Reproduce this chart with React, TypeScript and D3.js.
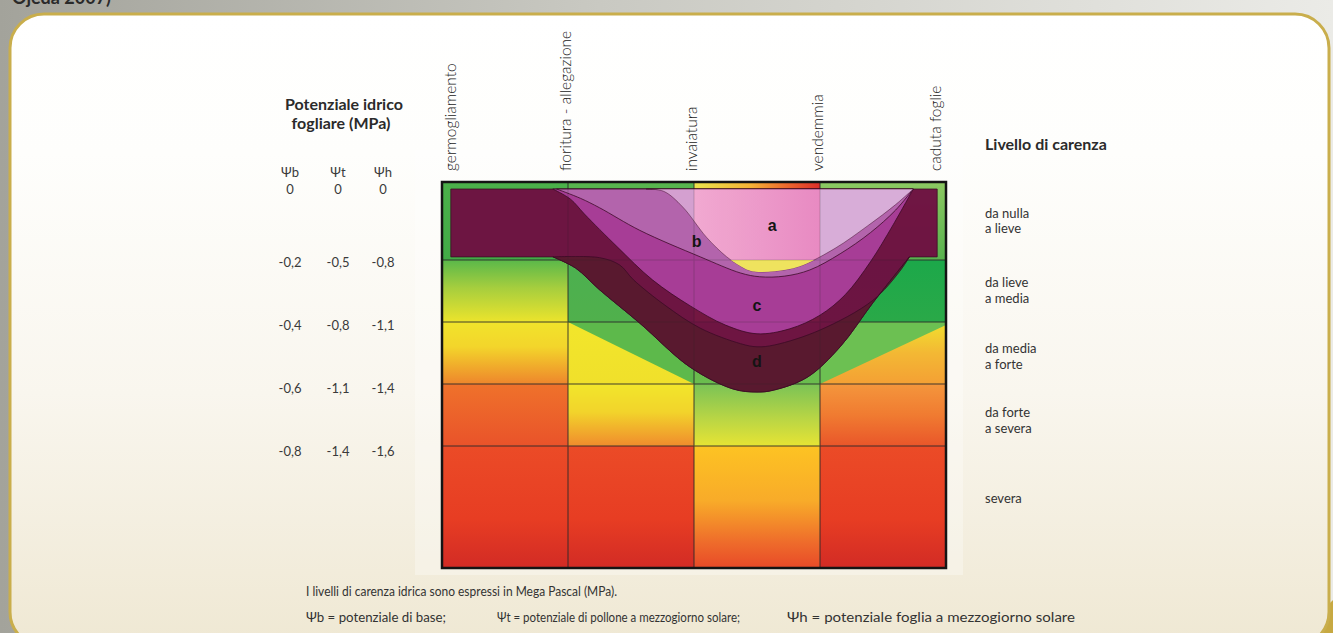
import React from 'react';
import * as d3 from 'd3';

type P = [number, number];

// ---------- data ----------
const stages = ['germogliamento', 'fioritura - allegazione', 'invaiatura', 'vendemmia', 'caduta foglie'];
const levels = [['da nulla', 'a lieve'], ['da lieve', 'a media'], ['da media', 'a forte'], ['da forte', 'a severa'], ['severa']];
const psiHeaders = ['Ψb', 'Ψt', 'Ψh'];
const psiB = ['0', '-0,2', '-0,4', '-0,6', '-0,8'];
const psiT = ['0', '-0,5', '-0,8', '-1,1', '-1,4'];
const psiH = ['0', '-0,8', '-1,1', '-1,4', '-1,6'];

// band geometry in (stage, stress level) units
const bandTop = 0.09;
const blockBottom = 0.96;
const leftBlock: P = [0.07, 0.88];
const rightBlock: P = [3.71, 3.93];
const outerLower: P[] = [[3.71, 0.96], [3.69, 1.0], [3.42, 1.69], [3.16, 2.4], [2.9, 2.89], [2.63, 3.1], [2.5, 3.13], [2.31, 3.08], [1.97, 2.73], [1.57, 2.02], [1.25, 1.48], [1.06, 1.13], [0.88, 0.96]];
const dUpper: P[] = [[0.88, 0.96], [1.25, 0.97], [1.41, 1.08], [1.52, 1.32], [1.77, 1.73], [2.05, 2.1], [2.37, 2.35], [2.5, 2.4], [2.64, 2.37], [3.0, 2.13], [3.42, 1.65], [3.63, 1.19], [3.71, 0.96]];
const cLower: P[] = [[3.74, 0.09], [3.58, 0.55], [3.4, 1.03], [3.2, 1.56], [3.0, 1.89], [2.76, 2.11], [2.5, 2.19], [2.25, 2.05], [1.97, 1.74], [1.67, 1.32], [1.39, 0.83], [1.13, 0.41], [1.02, 0.22], [0.88, 0.09]];
const bLower: P[] = [[3.74, 0.09], [3.6, 0.36], [3.4, 0.65], [3.16, 0.92], [2.92, 1.16], [2.72, 1.26], [2.52, 1.27], [2.37, 1.21], [2.05, 0.96], [1.57, 0.62], [1.25, 0.33], [1.1, 0.21], [0.91, 0.09]];
const aLower: P[] = [[3.74, 0.09], [3.6, 0.29], [3.38, 0.56], [3.12, 0.85], [2.84, 1.1], [2.64, 1.18], [2.46, 1.18], [2.37, 1.1], [2.26, 0.96], [2.1, 0.71], [1.91, 0.32], [1.76, 0.12], [1.62, 0.09]];
const wedges: P[][] = [[[1, 2], [2, 2], [2, 3]], [[3, 2], [4, 2], [4, 2.05], [3, 3]]];
const bandLetters = [{ t: 'a', u: 2.62, v: 0.56 }, { t: 'b', u: 2.02, v: 0.76 }, { t: 'c', u: 2.5, v: 1.73 }, { t: 'd', u: 2.5, v: 2.63 }];

// ---------- styles ----------
type Stops = { dir: 'v' | 'h'; stops: [number, string][] };
const red: Stops = { dir: 'v', stops: [[0, '#eb4b27'], [0.6, '#e73d23'], [1, '#d22b25']] };
const cellPalette: Stops[][] = [
  [
    { dir: 'v', stops: [[0, '#4bb04a'], [1, '#42ab47']] },
    { dir: 'v', stops: [[0, '#58b54e'], [1, '#4caf4c']] },
    { dir: 'h', stops: [[0, '#ece44c'], [0.45, '#f4b236'], [0.72, '#ee6c2e'], [1, '#de2e2a']] },
    { dir: 'v', stops: [[0, '#8cc962'], [1, '#58b24e']] },
  ],
  [
    { dir: 'v', stops: [[0, '#5ab84a'], [0.45, '#a6ce3e'], [1, '#ece42c']] },
    { dir: 'v', stops: [[0, '#4cb050'], [1, '#50b04c']] },
    { dir: 'v', stops: [[0, '#f1e54a'], [1, '#d6e03c']] },
    { dir: 'v', stops: [[0, '#1ca84a'], [1, '#2aa948']] },
  ],
  [
    { dir: 'v', stops: [[0, '#f1e42b'], [0.4, '#f3d52b'], [1, '#ee862c']] },
    { dir: 'v', stops: [[0, '#f2e62b'], [1, '#f0e02b']] },
    { dir: 'v', stops: [[0, '#5cb74a'], [1, '#6bbd4e']] },
    { dir: 'v', stops: [[0, '#f1e02e'], [0.5, '#f3b834'], [1, '#f4a034']] },
  ],
  [
    { dir: 'v', stops: [[0, '#ef722b'], [1, '#e9532a']] },
    { dir: 'v', stops: [[0, '#f2e62b'], [0.45, '#f2d42b'], [1, '#f08c2d']] },
    { dir: 'v', stops: [[0, '#7ac356'], [0.55, '#b8d545'], [1, '#e6e434']] },
    { dir: 'v', stops: [[0, '#f4963c'], [0.5, '#f07b31'], [1, '#e9562a']] },
  ],
  [red, red, { dir: 'v', stops: [[0, '#fdc323'], [0.45, '#f8ab29'], [0.8, '#ee6a2b'], [1, '#e84a28']] }, red],
];
const wedgeColors = ['#5db94b', '#6cc052'];
const FONT = "Lato, 'Open Sans', 'DejaVu Sans', sans-serif";

// ---------- scales ----------
const x = d3.scaleLinear().domain([0, 4]).range([442, 946]);
const y = d3.scaleLinear().domain([0, 1, 2, 3, 4, 5]).range([182, 260, 322, 384, 446, 568]);

type Seg = { pts: P[]; smooth?: boolean };
function buildPath(segs: Seg[]): string {
  let d = '';
  segs.forEach((s, i) => {
    const pp = s.pts.map(([u, v]) => [x(u), y(v)] as [number, number]);
    const gen = d3.line().curve(s.smooth ? d3.curveCatmullRom.alpha(0.5) : d3.curveLinear);
    let str = gen(pp) || '';
    if (i > 0) str = str.replace(/^M[^A-Za-z]*/, '');
    d += str;
  });
  return d + 'Z';
}

const outerPath = buildPath([
  { pts: [[leftBlock[0], bandTop], [rightBlock[1], bandTop], [rightBlock[1], blockBottom], [rightBlock[0], blockBottom]] },
  { pts: outerLower, smooth: true },
  { pts: [[leftBlock[1], blockBottom], [leftBlock[0], blockBottom]] },
]);
const dPath = buildPath([{ pts: dUpper, smooth: true }, { pts: outerLower, smooth: true }]);
const cPath = buildPath([{ pts: [[cLower[cLower.length - 1][0], bandTop], [cLower[0][0], bandTop]] }, { pts: cLower, smooth: true }]);
const bPath = buildPath([{ pts: [[bLower[bLower.length - 1][0], bandTop], [bLower[0][0], bandTop]] }, { pts: bLower, smooth: true }]);
const aPath = buildPath([{ pts: [[aLower[aLower.length - 1][0], bandTop], [aLower[0][0], bandTop]] }, { pts: aLower, smooth: true }]);

export default function App() {
  const cols = d3.range(4);
  const rows = d3.range(5);
  const psiCols = [psiB, psiT, psiH];
  const psiX = [290, 338, 383];
  const labelOffsets = [14, 3, 3, 3, -5];
  const levelShift = [-0.5, -1, 3, 5];
  return (
    <svg width={1333} height={633} style={{ position: 'absolute', left: 0, top: 0, display: 'block' }}>
      <defs>
        <linearGradient id="bg" x1="0" x2="1" y1="0" y2="0">
          <stop offset="0" stopColor="#a3a39b" />
          <stop offset="0.45" stopColor="#c9c9c2" />
          <stop offset="1" stopColor="#ebebe7" />
        </linearGradient>
        <linearGradient id="panel" x1="0" x2="0" y1="0" y2="1">
          <stop offset="0" stopColor="#ffffff" />
          <stop offset="0.22" stopColor="#fefefc" />
          <stop offset="0.6" stopColor="#f9f6ee" />
          <stop offset="1" stopColor="#efe8d3" />
        </linearGradient>
        {rows.map((r) =>
          cols.map((c) => {
            const p = cellPalette[r][c];
            return (
              <linearGradient key={`g${r}${c}`} id={`cell-${r}-${c}`} x1="0" y1="0" x2={p.dir === 'h' ? 1 : 0} y2={p.dir === 'h' ? 0 : 1}>
                {p.stops.map(([o, col], i) => (
                  <stop key={i} offset={o} stopColor={col} />
                ))}
              </linearGradient>
            );
          })
        )}
        <linearGradient id="aFill" gradientUnits="userSpaceOnUse" x1={x(0)} x2={x(4)} y1="0" y2="0">
          <stop offset="0" stopColor="#d6a2d2" />
          <stop offset="0.5" stopColor="#d6a2d2" />
          <stop offset="0.5" stopColor="#f3acd3" />
          <stop offset="0.75" stopColor="#ea8cc3" />
          <stop offset="0.75" stopColor="#dab0da" />
          <stop offset="1" stopColor="#dab0da" />
        </linearGradient>
        <clipPath id="lensClip">
          <rect x={x(2)} y={y(1)} width={x(3) - x(2)} height={y(2) - y(1)} />
        </clipPath>
      </defs>

      {/* page background */}
      <rect x={0} y={0} width={1333} height={633} fill="url(#bg)" />
      <path d="M1300,633 L1333,600 L1333,633 Z" fill="#c7a942" />
      <rect x={10} y={14} width={1319} height={632} rx={34} fill="url(#panel)" stroke="#c9ae4c" strokeWidth={3} />
      <text x={12} y={4} fontFamily={FONT} fontWeight={700} fontSize={18} fill="#2a2a2a">Ojeda 2007)</text>

      {/* faint white backdrop behind figure */}
      <rect x={415} y={150} width={548} height={425} fill="#ffffff" opacity={0.3} />

      {/* background cells */}
      {rows.map((r) =>
        cols.map((c) => (
          <rect key={`c${r}${c}`} x={x(c)} y={y(r)} width={x(c + 1) - x(c)} height={y(r + 1) - y(r)} fill={`url(#cell-${r}-${c})`} />
        ))
      )}
      {wedges.map((w, i) => (
        <path key={`w${i}`} d={buildPath([{ pts: w }])} fill={wedgeColors[i]} />
      ))}

      {/* grid */}
      <g stroke="#2a2a2a" strokeWidth={1} opacity={0.75}>
        {[1, 2, 3].map((c) => (
          <line key={`v${c}`} x1={x(c)} x2={x(c)} y1={y(0)} y2={y(5)} />
        ))}
        {[1, 2, 3, 4].map((r) => (
          <line key={`h${r}`} x1={x(0)} x2={x(4)} y1={y(r)} y2={y(r)} />
        ))}
      </g>

      {/* stress bands */}
      <g stroke="#3a0a24" strokeWidth={0.8} strokeLinejoin="round">
        <path d={outerPath} fill="#6f0f42" opacity={0.96} />
        <path d={dPath} fill="#581a2e" opacity={0.95} />
        <path d={cPath} fill="#aa3f9a" opacity={0.96} />
        <path d={bPath} fill="#b466ad" opacity={0.96} />
        <path d={aPath} fill="url(#aFill)" opacity={0.97} strokeOpacity={0.6} />
        <path d={aPath} fill="#efe35e" stroke="none" clipPath="url(#lensClip)" />
      </g>

      {/* grid seen through bands */}
      <g stroke="#2a2a2a" strokeWidth={1} opacity={0.22}>
        {[1, 2, 3].map((c) => (
          <line key={`v2${c}`} x1={x(c)} x2={x(c)} y1={y(0)} y2={y(5)} />
        ))}
        {[1, 2, 3, 4].map((r) => (
          <line key={`h2${r}`} x1={x(0)} x2={x(4)} y1={y(r)} y2={y(r)} />
        ))}
      </g>
      <rect x={x(0)} y={y(0)} width={x(4) - x(0)} height={y(5) - y(0)} fill="none" stroke="#141414" strokeWidth={2.5} />

      {bandLetters.map((b) => (
        <text key={b.t} x={x(b.u)} y={y(b.v)} textAnchor="middle" dominantBaseline="central" fontFamily="'Liberation Sans', Arial, sans-serif" fontWeight={700} fontSize={16} fill="#141414">
          {b.t}
        </text>
      ))}

      {/* phenological stages */}
      {stages.map((s, i) => (
        <text key={s} transform={`translate(${x(i) + labelOffsets[i]},171) rotate(-90)`} fontFamily={FONT} fontWeight={300} fontSize={15.5} fill="#222">
          {s}
        </text>
      ))}

      {/* left: leaf water potential */}
      <g fontFamily={FONT} fill="#2b2b2b">
        <text x={344} y={103} textAnchor="middle" dominantBaseline="central" fontWeight={700} fontSize={16}>Potenziale idrico</text>
        <text x={341} y={122} textAnchor="middle" dominantBaseline="central" fontWeight={700} fontSize={16}>fogliare (MPa)</text>
        {psiHeaders.map((h, j) => (
          <text key={h} x={psiX[j]} y={172} textAnchor="middle" dominantBaseline="central" fontSize={13} fill="#3a3a3a">{h}</text>
        ))}
        {psiCols.map((col, j) =>
          col.map((v, i) => (
            <text key={`${j}-${i}`} x={psiX[j]} y={i === 0 ? y(0) + 7 : y(i) + 0.5 + 1.1 * i} textAnchor="middle" dominantBaseline="central" fontSize={13} fill="#3a3a3a">{v}</text>
          ))
        )}
      </g>

      {/* right: stress level */}
      <g fontFamily={FONT} fill="#333">
        <text x={985} y={143} dominantBaseline="central" fontWeight={700} fontSize={16} fill="#2b2b2b">Livello di carenza</text>
        {levels.map((lines, i) => {
          const cy = i < 4 ? (y(i) + y(i + 1)) / 2 + levelShift[i] : y(4) + 52;
          return lines.map((t, k) => (
            <text key={`${i}-${k}`} x={985} y={lines.length === 1 ? cy : cy + (k === 0 ? -7.8 : 7.8)} dominantBaseline="central" fontSize={13}>{t}</text>
          ));
        })}
      </g>

      {/* notes */}
      <g fontFamily={FONT} fill="#333">
        <text x={306} y={596} fontSize={13} textLength={311} lengthAdjust="spacingAndGlyphs">I livelli di carenza idrica sono espressi in Mega Pascal (MPa).</text>
        <text x={306} y={622} fontSize={13} textLength={140} lengthAdjust="spacingAndGlyphs">Ψb = potenziale di base;</text>
        <text x={497} y={622} fontSize={13} textLength={243} lengthAdjust="spacingAndGlyphs">Ψt = potenziale di pollone a mezzogiorno solare;</text>
        <text x={787} y={622} fontSize={13} textLength={288} lengthAdjust="spacingAndGlyphs">Ψh = potenziale foglia a mezzogiorno solare</text>
      </g>
    </svg>
  );
}
